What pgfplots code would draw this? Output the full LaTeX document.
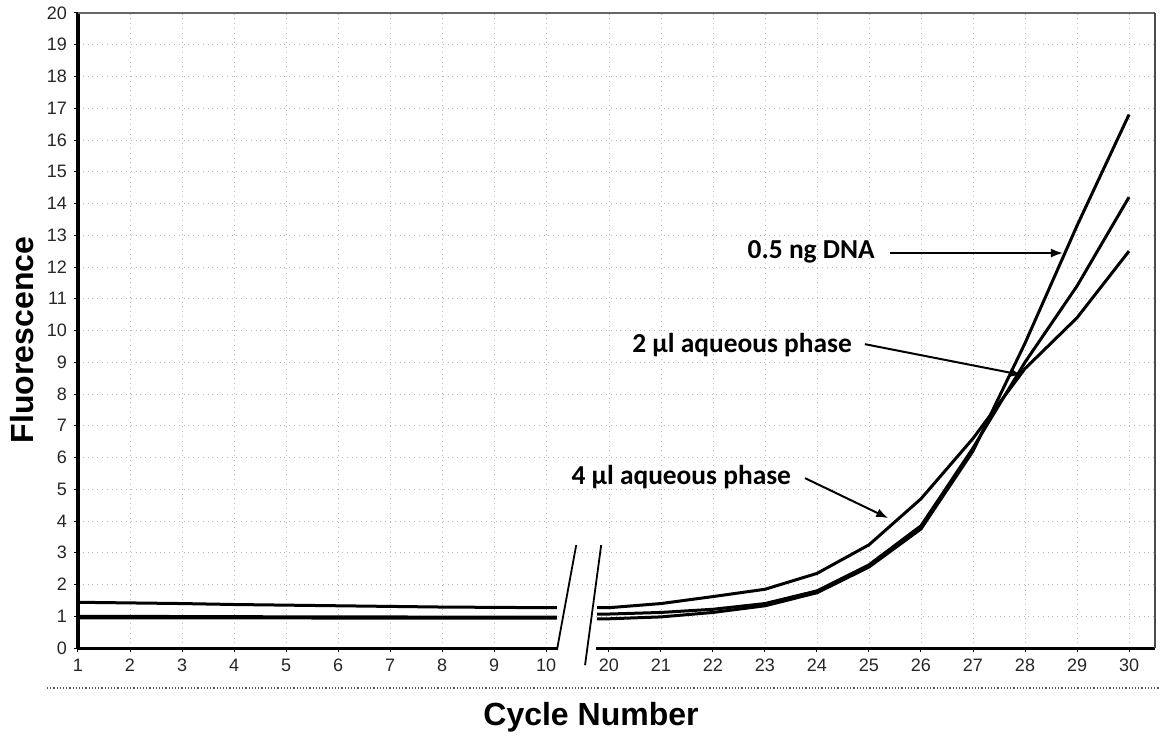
\documentclass[border=0pt]{standalone}
\usepackage{fontspec}
\setmainfont{Liberation Sans}
\newfontfamily\annfont{Carlito}
\usepackage{pgfplots}
\usepackage{pgfplotstable}
\pgfplotsset{compat=1.18}
\usetikzlibrary{arrows.meta}

% cycle, fluorescence ; gap marked with nan
\pgfplotstableread{
c y
1 1.44
2 1.42
3 1.40
4 1.37
5 1.35
6 1.33
7 1.31
8 1.29
9 1.28
10 1.27
10.21 1.27
15 nan
19.77 1.27
20 1.27
21 1.40
22 1.62
23 1.85
24 2.35
25 3.25
26 4.70
27 6.60
28 8.80
29 10.40
30 12.50
}\fourul

\pgfplotstableread{
c y
1 1.00
2 1.00
3 0.99
4 0.99
5 0.98
6 0.98
7 0.98
8 0.97
9 0.97
10 0.97
10.21 0.97
15 nan
19.77 1.07
20 1.07
21 1.12
22 1.22
23 1.40
24 1.80
25 2.62
26 3.85
27 6.30
28 9.00
29 11.40
30 14.20
}\twoul

\pgfplotstableread{
c y
1 0.95
2 0.95
3 0.95
4 0.95
5 0.95
6 0.94
7 0.94
8 0.94
9 0.94
10 0.94
10.21 0.94
15 nan
19.77 0.92
20 0.92
21 0.98
22 1.12
23 1.33
24 1.74
25 2.55
26 3.75
27 6.20
28 9.60
29 13.30
30 16.80
}\dna

\begin{document}
\begin{tikzpicture}
\useasboundingbox (-39pt,-46pt) rectangle (541pt,324pt);
\begin{axis}[
  at={(0pt,0pt)}, anchor=south west,
  scale only axis, width=538.5pt, height=317.5pt,
  xmin=1, xmax=21.71, ymin=0, ymax=20,
  axis line style={draw=none},
  xtick={1,2,3,4,5,6,7,8,9,10,11.21,12.21,13.21,14.21,15.21,16.21,17.21,18.21,19.21,20.21,21.21},
  xticklabels={1,2,3,4,5,6,7,8,9,10,20,21,22,23,24,25,26,27,28,29,30},
  ytick={0,1,...,20},
  xtick pos=bottom, ytick pos=left,
  tick align=outside, major tick length=2pt,
  tick style={black, line width=0.5pt},
  grid=major, grid style={dotted, gray!55, line width=0.45pt},
  ticklabel style={font=\fontsize{9}{10}\selectfont, text=black!85},
  /pgf/number format/assume math mode=true,
  clip=false,
  unbounded coords=jump,
]
\draw[white, line width=2pt] (axis cs:10.22,0) -- (axis cs:10.95,0);
\draw[black, line width=1.6pt] (axis cs:1,0) -- (axis cs:1,20);
\draw[black, line width=1.5pt] (axis cs:1,0) -- (axis cs:10.21,0);
\draw[black, line width=1.5pt] (axis cs:10.96,0) -- (axis cs:21.71,0);
\draw[gray!80!black, line width=0.6pt] (axis cs:1,20) -- (axis cs:21.71,20);
\draw[gray!60!black, line width=0.9pt] (axis cs:21.71,20) -- (axis cs:21.71,0);
\draw[black, line width=0.9pt] (axis cs:10.58,3.24) -- (axis cs:10.21,-0.06);
\draw[black, line width=0.9pt] (axis cs:11.06,3.24) -- (axis cs:10.75,-0.54);

\addplot[black, line width=1.5pt] table[x expr={\thisrow{c}>15 ? \thisrow{c}-8.79 : \thisrow{c}}, y=y] {\fourul};
\addplot[black, line width=1.5pt] table[x expr={\thisrow{c}>15 ? \thisrow{c}-8.79 : \thisrow{c}}, y=y] {\twoul};
\addplot[black, line width=1.5pt] table[x expr={\thisrow{c}>15 ? \thisrow{c}-8.79 : \thisrow{c}}, y=y] {\dna};

\node[font=\annfont\bfseries\fontsize{13.7}{15}\selectfont] at (axis cs:15.10,12.47) {0.5 ng DNA};
\draw[-{Latex[length=6pt,width=4.5pt]}, line width=1pt] (axis cs:16.62,12.44) -- (axis cs:19.94,12.44);
\node[font=\annfont\bfseries\fontsize{13.7}{15}\selectfont] at (axis cs:13.77,9.54) {2 µl aqueous phase};
\draw[-{Latex[length=6pt,width=4.5pt]}, line width=1pt] (axis cs:16.13,9.57) -- (axis cs:19.15,8.60);
\node[font=\annfont\bfseries\fontsize{13.7}{15}\selectfont] at (axis cs:12.60,5.39) {4 µl aqueous phase};
\draw[-{Latex[length=6pt,width=4.5pt]}, line width=1pt] (axis cs:14.98,5.35) -- (axis cs:16.58,4.09);
\end{axis}
\draw[densely dotted, gray!70!black, line width=0.6pt] (-15.5pt,-20pt) -- (541pt,-20pt);
\node[font=\bfseries\fontsize{16}{18}\selectfont] at (256.5pt,-34.5pt) {Cycle Number};
\node[font=\bfseries\fontsize{16}{18}\selectfont, rotate=90] at (-28pt,154pt) {Fluorescence};
\end{tikzpicture}
\end{document}
